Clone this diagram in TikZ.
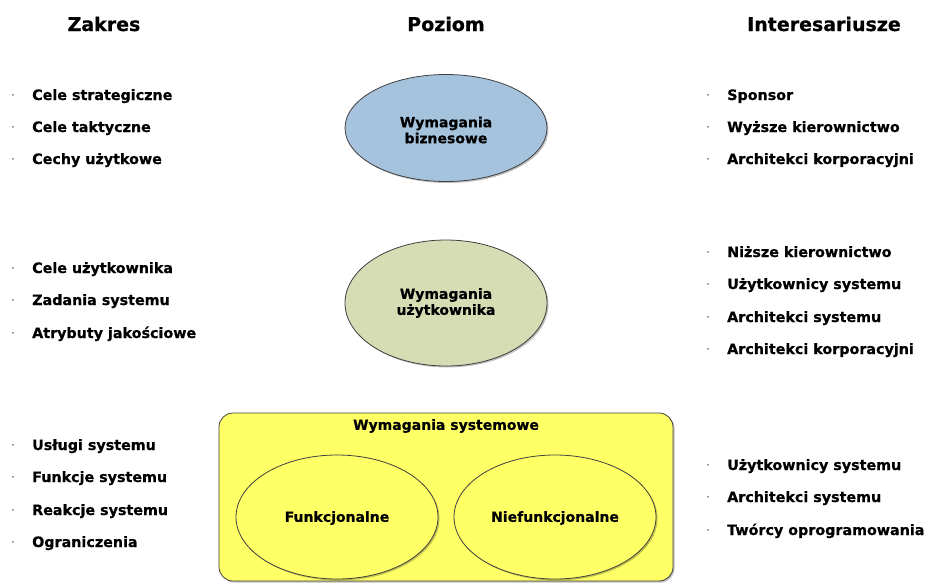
\documentclass[tikz,border=0pt]{standalone}
\usepackage{fontspec}
\setmainfont{DejaVu Sans}[BoldFeatures={FakeBold=0.6}]
\usetikzlibrary{shapes.geometric,shadows}
\definecolor{bizblue}{RGB}{166,195,221}
\definecolor{usersage}{RGB}{214,220,180}
\definecolor{sysyellow}{RGB}{255,255,102}
\definecolor{edgegray}{RGB}{64,64,64}
\tikzset{
  header/.style={font=\bfseries\fontsize{19}{22}\selectfont, anchor=base, inner sep=0pt},
  item/.style={font=\bfseries\fontsize{14.3}{16}\selectfont, anchor=base west, inner sep=0pt},
  dotmark/.style={font=\fontsize{12}{14}\selectfont, anchor=base, inner sep=0pt, text=black!70},
  levelell/.style={ellipse, draw=edgegray, line width=0.8pt, minimum width=202pt,
    drop shadow={shadow xshift=1.5pt, shadow yshift=-1.5pt, opacity=0.25, fill=black}},
  inlabel/.style={font=\bfseries\fontsize{14}{16}\selectfont, align=center, inner sep=0pt},
}
\begin{document}
\begin{tikzpicture}[x=1pt,y=-1pt]
\useasboundingbox (0,0) rectangle (925,582);
\clip (0,0) rectangle (925,582);

% column headers
\node[header] (hz) at (104,31) {Zakres};
\node[header] (hp) at (446,31) {Poziom};
\node[header] (hi) at (824,31) {Interesariusze};

% level ellipses
\node[levelell, fill=bizblue, minimum height=107pt] (biz) at (446,128) {};
\node[inlabel] (bizt) at (446,130) {Wymagania\\biznesowe};
\node[levelell, fill=usersage, minimum height=126pt] (usr) at (446,303) {};
\node[inlabel] (usrt) at (446,303) {Wymagania\\użytkownika};

% system requirements box
\node[draw=edgegray, line width=0.8pt, fill=sysyellow, rounded corners=14pt,
  minimum width=454pt, minimum height=168pt, inner sep=0pt,
  drop shadow={shadow xshift=1.5pt, shadow yshift=-1.5pt, opacity=0.25, fill=black}]
  (sys) at (446,497) {};
\node[inlabel] (syst) at (446,426) {Wymagania systemowe};
\node[levelell, fill=sysyellow, minimum height=124pt] (fun) at (337,517) {};
\node[inlabel] (funt) at (337,518) {Funkcjonalne};
\node[levelell, fill=sysyellow, minimum height=124pt] (nfun) at (555,517) {};
\node[inlabel] (nfunt) at (555,518) {Niefunkcjonalne};

% scope column
\foreach \y/\t [count=\i] in {95/Cele strategiczne, 127/Cele taktyczne, 159/Cechy użytkowe,
    268/Cele użytkownika, 300/Zadania systemu, 333/Atrybuty jakościowe,
    445/Usługi systemu, 477/Funkcje systemu, 510/Reakcje systemu, 542/Ograniczenia}{
  \node[dotmark] (ld\i) at (13,\y+4) {·};
  \node[item] (l\i) at (32,\y+5) {\t};
}

% stakeholders column
\foreach \y/\t [count=\i] in {95/Sponsor, 127/Wyższe kierownictwo, 159/Architekci korporacyjni,
    252/Niższe kierownictwo, 284/Użytkownicy systemu, 317/Architekci systemu, 349/Architekci korporacyjni,
    465/Użytkownicy systemu, 497/Architekci systemu, 530/Twórcy oprogramowania}{
  \node[dotmark] (rd\i) at (708,\y+4) {·};
  \node[item] (r\i) at (727,\y+5) {\t};
}
\end{tikzpicture}
\end{document}
